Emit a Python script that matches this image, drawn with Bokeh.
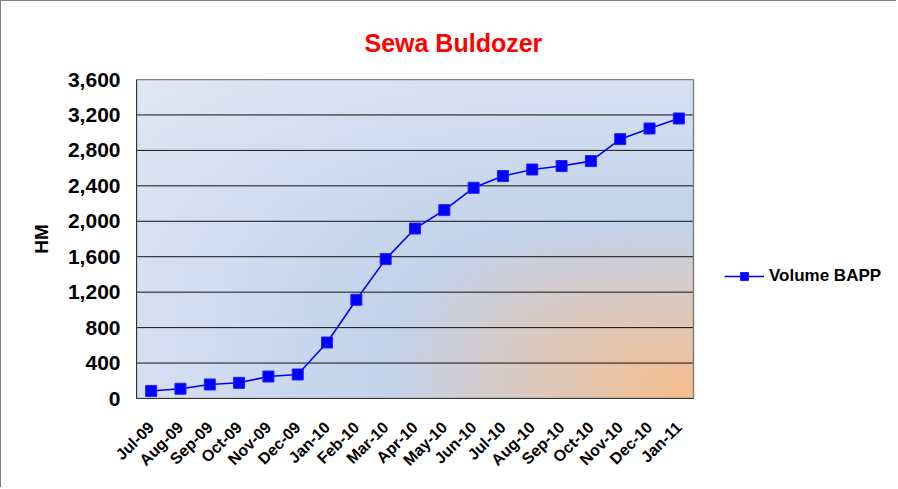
import numpy as np
from bokeh.plotting import figure
from bokeh.models import (Range1d, SingleIntervalTicker, FixedTicker, NumeralTickFormatter,
                          Legend, LegendItem, ColumnDataSource)
from bokeh.embed import file_html
from bokeh.resources import INLINE

# ---- data ----
months = ["Jul-09", "Aug-09", "Sep-09", "Oct-09", "Nov-09", "Dec-09", "Jan-10", "Feb-10",
          "Mar-10", "Apr-10", "May-10", "Jun-10", "Jul-10", "Aug-10", "Sep-10", "Oct-10",
          "Nov-10", "Dec-10", "Jan-11"]
volume_bapp = [85, 110, 158, 177, 248, 271, 632, 1114, 1573, 1918, 2126, 2378, 2510,
               2584, 2623, 2679, 2927, 3047, 3160]
y_max = 3600
y_step = 400
title_text = "Sewa Buldozer"
series_name = "Volume BAPP"
y_label = "HM"

FONT = "Liberation Sans"

# layout (pixels)
W, H = 896, 487
FRAME_L, FRAME_T, FRAME_B = 135, 78, 397
PLOT_R = 692          # right edge of the plotting area
FRAME_R = 890         # frame extends under the legend area

n = len(months)
xs = list(range(n))
x_lo, x_hi = -0.5, n - 0.5
x_end = x_lo + (x_hi - x_lo) * (FRAME_R - FRAME_L) / (PLOT_R - FRAME_L)
y_ticks = list(range(0, y_max + 1, y_step))

p = figure(width=W, height=H, output_backend="svg", toolbar_location=None,
           x_range=Range1d(x_lo, x_end), y_range=Range1d(0, y_max),
           min_border_left=FRAME_L, min_border_right=W - FRAME_R,
           min_border_top=FRAME_T, min_border_bottom=H - FRAME_B)
p.styles = {"border-left": "1px solid #808080", "border-top": "1px solid #808080"}

# background gradient (decorative) over the plotting area
nx, ny = 280, 160
u = 1.0 - np.linspace(0, 1, nx)[None, :]
v = np.linspace(0, 1, ny)[:, None]
d = (u ** 3 + v ** 3) ** (1.0 / 3.0)
stops = np.array([0.0, 0.55, 1.0, 1.27])
cols = np.array([[247, 190, 140], [195, 211, 236], [214, 224, 241], [225, 232, 244]], dtype=float)
img = np.empty((ny, nx), dtype=np.uint32)
view = img.view(dtype=np.uint8).reshape((ny, nx, 4))
for c in range(3):
    view[:, :, c] = np.interp(d, stops, cols[:, c]).astype(np.uint8)
view[:, :, 3] = 255
p.image_rgba(image=[img], x=x_lo, y=0, dw=x_hi - x_lo, dh=y_max, level="image")

# horizontal gridlines limited to the plotting area
p.segment(x0=[x_lo] * len(y_ticks), x1=[x_hi] * len(y_ticks), y0=y_ticks, y1=y_ticks,
          line_color="#111111", line_width=1, level="underlay")
# plot-area border
p.quad(left=[x_lo], right=[x_hi], bottom=[0], top=[y_max], fill_color=None,
       line_color="#808080", line_width=1.5, level="underlay")

src = ColumnDataSource(dict(x=xs, v=volume_bapp))
ln = p.line("x", "v", source=src, line_color="#0000FF", line_width=1.6)
sq = p.scatter("x", "v", source=src, marker="square", size=11, fill_color="#0000FF",
               line_color="#2020FF", line_width=1)

# title
p.title.text = title_text
p.title.text_color = "#FF0000"
p.title.text_font = FONT
p.title.text_font_size = "25px"
p.title.text_font_style = "bold"
p.title.align = "left"
p.title.offset = 228
p.title.standoff = 45

# axes
p.xaxis.ticker = FixedTicker(ticks=xs)
p.xaxis.major_label_overrides = {i: m for i, m in zip(xs, months)}
p.xaxis.bounds = (x_lo, x_hi)
p.xaxis.major_label_orientation = np.pi / 4
p.xaxis.major_label_text_font = FONT
p.xaxis.major_label_text_font_size = "16px"
p.xaxis.major_label_text_font_style = "bold"
p.xaxis.major_label_text_color = "black"
p.xaxis.major_label_standoff = 20
p.xaxis.major_tick_line_color = None
p.xaxis.minor_tick_line_color = None
p.xaxis.axis_line_color = "#333333"

p.yaxis.ticker = SingleIntervalTicker(interval=y_step)
p.yaxis.formatter = NumeralTickFormatter(format="0,0")
p.yaxis.major_label_text_font = FONT
p.yaxis.major_label_text_font_size = "21px"
p.yaxis.major_label_text_font_style = "bold"
p.yaxis.major_label_text_color = "black"
p.yaxis.major_tick_out = 0
p.yaxis.major_tick_in = 0
p.yaxis.minor_tick_line_color = None
p.yaxis.major_label_standoff = 12
p.yaxis.axis_line_color = "#333333"
p.yaxis.axis_label = y_label
p.yaxis.axis_label_text_font = FONT
p.yaxis.axis_label_text_font_size = "19px"
p.yaxis.axis_label_text_font_style = "bold"
p.yaxis.axis_label_text_color = "black"
p.yaxis.axis_label_standoff = 13

p.xgrid.grid_line_color = None
p.ygrid.grid_line_color = None

p.outline_line_color = None
p.background_fill_color = "white"
p.border_fill_color = "white"

legend = Legend(items=[LegendItem(label=series_name, renderers=[ln, sq])],
                location=(723 - FRAME_L, FRAME_B - 285), padding=0, margin=0,
                glyph_width=40, glyph_height=20, label_standoff=5,
                border_line_alpha=0, background_fill_alpha=0,
                label_text_font=FONT, label_text_font_size="17px", label_text_font_style="bold",
                label_text_color="black")
p.add_layout(legend, "center")

open("out.html", "w").write(file_html(p, INLINE))
